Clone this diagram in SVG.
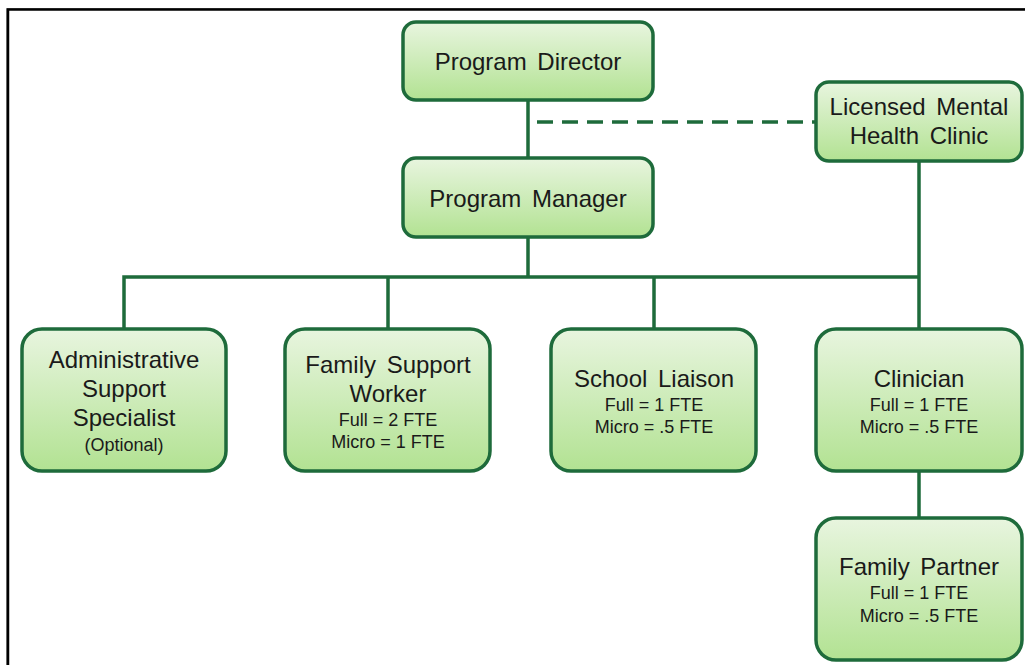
<svg xmlns="http://www.w3.org/2000/svg" width="1025" height="665" viewBox="0 0 1025 665">
<defs>
<linearGradient id="g" x1="0" y1="0" x2="0" y2="1">
<stop offset="0" stop-color="#e8f5df"/>
<stop offset="1" stop-color="#b2e292"/>
</linearGradient>
<style>
.box{fill:url(#g);stroke:#1e6b3b;stroke-width:3.5}
.t{font-family:"Liberation Sans",Arial,sans-serif;font-size:24px;fill:#1a1a1a;text-anchor:middle;word-spacing:4px}
.s{font-family:"Liberation Sans",Arial,sans-serif;font-size:18px;fill:#1a1a1a;text-anchor:middle}
.c{fill:none;stroke:#1e6b3b;stroke-width:3.5}
</style>
</defs>
<rect width="1025" height="665" fill="#fff"/>
<path d="M6.5,665 V8.5 H1025" fill="none" stroke="#888" stroke-width="1"/>
<path d="M8,665 V9.5 H1025" fill="none" stroke="#000" stroke-width="2.5"/>
<g id="connectors">
<path class="c" d="M528,100 V158 M528,237 V277 M124,330 V277 H919 M388,277 V330 M654,277 V330 M919,161 V330 M919,471 V518"/>
<path class="c" d="M537,122 H816" stroke-width="4" stroke-dasharray="16 9"/>
</g>
<g id="program-director">
<rect class="box" x="403" y="22" width="250" height="78" rx="13"/>
<text class="t" x="528" y="70">Program Director</text>
</g>
<g id="program-manager">
<rect class="box" x="403" y="158" width="250" height="79" rx="13"/>
<text class="t" x="528" y="207">Program Manager</text>
</g>
<g id="clinic">
<rect class="box" x="816" y="82" width="206" height="79" rx="13"/>
<text class="t" x="919" y="115">Licensed Mental</text>
<text class="t" x="919" y="144">Health Clinic</text>
</g>
<g id="admin">
<rect class="box" x="22" y="329" width="204" height="142" rx="20"/>
<text class="t" x="124" y="368">Administrative</text>
<text class="t" x="124" y="397">Support</text>
<text class="t" x="124" y="426">Specialist</text>
<text class="s" x="124" y="451">(Optional)</text>
</g>
<g id="family-support-worker">
<rect class="box" x="285" y="329" width="205" height="142" rx="20"/>
<text class="t" x="388" y="373">Family Support</text>
<text class="t" x="388" y="402">Worker</text>
<text class="s" x="388" y="426">Full = 2 FTE</text>
<text class="s" x="388" y="448">Micro = 1 FTE</text>
</g>
<g id="school-liaison">
<rect class="box" x="551" y="329" width="205" height="142" rx="20"/>
<text class="t" x="654" y="387">School Liaison</text>
<text class="s" x="654" y="411">Full = 1 FTE</text>
<text class="s" x="654" y="433">Micro = .5 FTE</text>
</g>
<g id="clinician">
<rect class="box" x="816" y="329" width="206" height="142" rx="20"/>
<text class="t" x="919" y="387">Clinician</text>
<text class="s" x="919" y="411">Full = 1 FTE</text>
<text class="s" x="919" y="433">Micro = .5 FTE</text>
</g>
<g id="family-partner">
<rect class="box" x="816" y="518" width="206" height="142" rx="20"/>
<text class="t" x="919" y="575">Family Partner</text>
<text class="s" x="919" y="599">Full = 1 FTE</text>
<text class="s" x="919" y="622">Micro = .5 FTE</text>
</g>
</svg>
